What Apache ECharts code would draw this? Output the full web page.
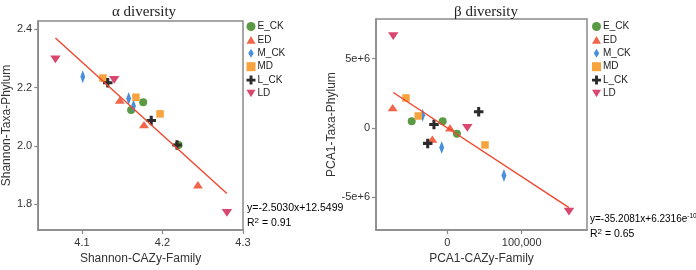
<!DOCTYPE html>
<html><head><meta charset="utf-8">
<script src="https://cdn.jsdelivr.net/npm/echarts@6/dist/echarts.min.js"></script>
<style>html,body{margin:0;padding:0;background:#fff}#c{width:696px;height:270px}</style>
</head><body><div id="c"></div>
<script>
// ---- data ----
const groups = ['E_CK', 'ED', 'M_CK', 'MD', 'L_CK', 'LD'];

// α diversity: [Shannon-CAZy-Family, Shannon-Taxa-Phylum]
const alpha_E_CK = [[4.161, 2.123], [4.176, 2.150], [4.220, 2.003]];
const alpha_ED   = [[4.147, 2.157], [4.177, 2.073], [4.244, 1.867]];
const alpha_M_CK = [[4.101, 2.237], [4.158, 2.163], [4.164, 2.137]];
const alpha_MD   = [[4.126, 2.233], [4.167, 2.167], [4.197, 2.110]];
const alpha_L_CK = [[4.132, 2.217], [4.186, 2.087], [4.218, 2.003]];
const alpha_LD   = [[4.067, 2.297], [4.140, 2.227], [4.280, 1.770]];

// β diversity: [PCA1-CAZy-Family, PCA1-Taxa-Phylum]
const beta_E_CK = [[-47800, 0.47e6], [-6200, 0.47e6], [13000, -0.42e6]];
const beta_ED   = [[-73400, 1.46e6], [3600, 0.0], [-20100, -0.81e6]];
const beta_M_CK = [[-33100, 0.91e6], [-7500, -1.42e6], [76200, -3.44e6]];
const beta_MD   = [[-55500, 2.16e6], [-39000, 0.86e6], [50700, -1.23e6]];
const beta_L_CK = [[-17900, 0.24e6], [42200, 1.16e6], [-26300, -1.12e6]];
const beta_LD   = [[-72600, 6.62e6], [26900, 0.0], [163600, -6.04e6]];

// regression fits: [slope, intercept], x range of the drawn line
const alphaFit = [-2.5030, 12.5499];
const alphaFitRange = [4.067, 4.280];
const betaFit = [-35.2081, 6.2316e-10];
const betaFitRange = [-72600, 163600];

// ticks
const alphaXTicks = [4.1, 4.2, 4.3];
const alphaYTicks = [1.8, 2.0, 2.2, 2.4];
const betaXTicks = [0, 100000];
const betaYTicks = [-5e6, 0, 5e6];

const alphaSets = [alpha_E_CK, alpha_ED, alpha_M_CK, alpha_MD, alpha_L_CK, alpha_LD];
const betaSets = [beta_E_CK, beta_ED, beta_M_CK, beta_MD, beta_L_CK, beta_LD];

// ---- styles ----
const colors = ['#5a9a44', '#f2654a', '#4a8fd9', '#f7a43e', '#2b2b2b', '#d9476f'];
const symbols = [
  'circle',
  'path://M5,0L10,8.6L0,8.6Z',
  'path://M4,0L8,6.5L4,13L0,6.5Z',
  'rect',
  'path://M3.4,0H6.6V3.4H10V6.6H6.6V10H3.4V6.6H0V3.4H3.4Z',
  'path://M0,0L10,0L5,8.6Z'
];
const sizes = [8, [10, 8.6], [8, 13], 7.5, 9.5, [10.5, 9]];
const axisGray = '#8a8a8a';
const fitColor = '#f0472c';

function fitLine(fit, range) {
  return range.map(x => [x, fit[0] * x + fit[1]]);
}

const series = [];
groups.forEach((g, i) => {
  [0, 1].forEach(k => {
    series.push({
      name: g, type: 'scatter', xAxisIndex: k, yAxisIndex: k,
      data: (k === 0 ? alphaSets : betaSets)[i],
      symbol: symbols[i], symbolSize: sizes[i], symbolKeepAspect: true,
      itemStyle: { color: colors[i], opacity: 1 }, z: 3
    });
  });
});
series.push({
  type: 'line', xAxisIndex: 0, yAxisIndex: 0, data: fitLine(alphaFit, alphaFitRange),
  showSymbol: false, lineStyle: { color: fitColor, width: 1.4 }, z: 4, silent: true
});
series.push({
  type: 'line', xAxisIndex: 1, yAxisIndex: 1, data: fitLine(betaFit, betaFitRange),
  showSymbol: false, lineStyle: { color: fitColor, width: 1.4 }, z: 4, silent: true
});

const axisCommon = {
  axisLine: { show: true, onZero: false, lineStyle: { color: axisGray, width: 1.5 } },
  axisTick: { show: true, length: 4, lineStyle: { color: axisGray, width: 1.2 } },
  splitLine: { show: false },
  nameTextStyle: { fontFamily: 'Liberation Sans', fontSize: 12, color: '#333' }
};
const labelStyle = { fontFamily: 'Liberation Sans', fontSize: 11, color: '#333' };

function fmtBetaX(v) { return v === 0 ? '0' : v.toLocaleString('en-US'); }
function fmtBetaY(v) { return v === 0 ? '0' : (v > 0 ? '5e+6' : '-5e+6'); }

const legendCommon = {
  orient: 'vertical', itemWidth: 9, itemHeight: 9, itemGap: 3.4, padding: 0,
  textStyle: { fontFamily: 'Liberation Sans', fontSize: 10, color: '#222', padding: [0, 0, 0, -3] },
  data: groups, selectedMode: false
};

const richEq = {
  a: { fontFamily: 'Liberation Sans', fontSize: 10, color: '#222', lineHeight: 13 },
  s: { fontFamily: 'Liberation Sans', fontSize: 6.5, color: '#222', lineHeight: 13, verticalAlign: 'top' }
};
const richR = {
  a: { fontFamily: 'Liberation Sans', fontSize: 10.5, color: '#222', lineHeight: 13 },
  s: { fontFamily: 'Liberation Sans', fontSize: 8, color: '#222', lineHeight: 13, verticalAlign: 'top' }
};

const chart = echarts.init(document.getElementById('c'), null, { renderer: 'canvas' });
chart.setOption({
  animation: false,
  backgroundColor: '#fff',
  title: [
    { text: 'α diversity', left: 139, top: 0, textAlign: 'center',
      textStyle: { fontFamily: 'Liberation Serif', fontWeight: 'normal', fontSize: 15, color: '#222' } },
    { text: 'β diversity', left: 481, top: 0, textAlign: 'center',
      textStyle: { fontFamily: 'Liberation Serif', fontWeight: 'normal', fontSize: 15, color: '#222' } }
  ],
  grid: [
    { left: 35, top: 21, width: 208, height: 216, show: true, borderColor: axisGray, borderWidth: 1.5, backgroundColor: 'transparent' },
    { left: 376, top: 19, width: 211, height: 218.5, show: true, borderColor: axisGray, borderWidth: 1.5, backgroundColor: 'transparent' }
  ],
  xAxis: [
    Object.assign({}, axisCommon, {
      type: 'value', gridIndex: 0, min: 4.0456, max: 4.3,
      name: 'Shannon-CAZy-Family', nameLocation: 'middle', nameGap: 20,
      axisTick: Object.assign({}, axisCommon.axisTick, { customValues: alphaXTicks }),
      axisLabel: Object.assign({}, labelStyle, { customValues: alphaXTicks, margin: 7, formatter: v => v.toFixed(1) })
    }),
    Object.assign({}, axisCommon, {
      type: 'value', gridIndex: 1, min: -95800, max: 187800,
      name: 'PCA1-CAZy-Family', nameLocation: 'middle', nameGap: 20,
      axisTick: Object.assign({}, axisCommon.axisTick, { customValues: betaXTicks }),
      axisLabel: Object.assign({}, labelStyle, { customValues: betaXTicks, margin: 7, formatter: fmtBetaX })
    })
  ],
  yAxis: [
    Object.assign({}, axisCommon, {
      type: 'value', gridIndex: 0, min: 1.7113, max: 2.4286,
      name: 'Shannon-Taxa-Phylum', nameLocation: 'middle', nameGap: 19,
      axisTick: Object.assign({}, axisCommon.axisTick, { customValues: alphaYTicks }),
      axisLabel: Object.assign({}, labelStyle, { customValues: alphaYTicks, margin: 6, formatter: v => v.toFixed(1) })
    }),
    Object.assign({}, axisCommon, {
      type: 'value', gridIndex: 1, min: -7.38e6, max: 7.86e6,
      name: 'PCA1-Taxa-Phylum', nameLocation: 'middle', nameGap: 22,
      axisTick: Object.assign({}, axisCommon.axisTick, { customValues: betaYTicks }),
      axisLabel: Object.assign({}, labelStyle, { customValues: betaYTicks, margin: 6, formatter: fmtBetaY })
    })
  ],
  legend: [
    Object.assign({}, legendCommon, { left: 246.5, top: 21.5 }),
    Object.assign({}, legendCommon, { left: 592, top: 21.5 })
  ],
  graphic: [
    { type: 'text', left: 247, top: 203, z: 10,
      style: { text: '{a|y=-2.5030x+12.5499}', rich: richR } },
    { type: 'text', left: 247, top: 217, z: 10,
      style: { text: '{a|R}{s|2}{a| = 0.91}', rich: richR } },
    { type: 'text', left: 590, top: 213, z: 10,
      style: { text: '{a|y=-35.2081x+6.2316e}{s|-10}', rich: richEq } },
    { type: 'text', left: 590, top: 228, z: 10,
      style: { text: '{a|R}{s|2}{a| = 0.65}', rich: richR } }
  ],
  series: series
});
</script>
</body></html>
